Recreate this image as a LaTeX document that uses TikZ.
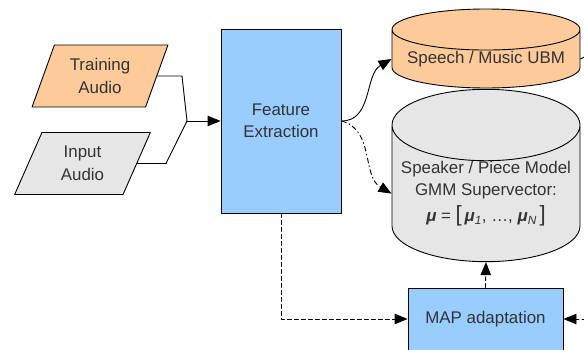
\documentclass[tikz,border=0pt]{standalone}
\usepackage{fontspec}
\setmainfont{Liberation Sans}
\usepackage{tikz}
\usetikzlibrary{arrows.meta,shapes.geometric}
\definecolor{audioorange}{HTML}{FCCB99}
\definecolor{audiogray}{HTML}{E6E6E6}
\definecolor{procblue}{HTML}{99CCFF}
\definecolor{labelgray}{HTML}{333333}

\begin{document}
\begin{tikzpicture}[line cap=round,line join=round,>={Triangle[length=13pt,width=10.5pt]},x=1pt,y=1pt,
	every node/.style={font=\fontsize{16.9}{22.5}\selectfont,text=labelgray,align=center},
	audiobox/.style={trapezium,trapezium stretches=true,trapezium left angle=67,trapezium right angle=113,draw=black,line width=0.9pt,minimum width=136pt,minimum height=62pt,inner sep=0pt},
	procbox/.style={rectangle,draw=black,line width=0.9pt,fill=procblue,inner sep=0pt},
	modeldb/.style={cylinder,shape border rotate=90,anchor=shape center,draw=black,line width=0.9pt,inner sep=0pt,minimum width=188pt},
	wire/.style={line width=0.9pt,color=black},
	dashwire/.style={wire,dash pattern=on 4pt off 3pt},
	dotwire/.style={wire,dash pattern=on 5pt off 3pt on 1pt off 3pt}]
	\useasboundingbox (0,0) rectangle (584,349);
	\clip (0,0) rectangle (584,349);
	\node[audiobox,fill=audioorange] (train) at (100,273) {Training\\Audio};
	\node[audiobox,fill=audiogray] (input) at (82.5,185.5) {Input\\Audio};
	\node[procbox,minimum width=120pt,minimum height=184pt] (feat) at (281,228) {Feature\\Extraction};
	\node[modeldb,fill=audioorange,aspect=0.26,minimum height=79pt] (ubm) at (486,300.5) {Speech / Music UBM};
	\node[modeldb,fill=audiogray,aspect=0.42,minimum height=155pt] (model) at (486,173.5)
		{Speaker / Piece Model\\GMM Supervector:\\[3pt]
		\textbf{\textit{μ}} = {\fontsize{22}{22}\selectfont[}\,\textbf{\textit{μ}}\textsubscript{\textit{1}}, …, \textbf{\textit{μ}}\textsubscript{\textit{N}}\,{\fontsize{22}{22}\selectfont]}};
	\node[procbox,minimum width=155pt,minimum height=62pt] (map) at (485.5,30) {MAP adaptation};
	\coordinate (join) at (187,228);
	\coordinate (ubmout) at (600,300.5);
	\coordinate (mapin) at (600,30);
	\draw[wire] (train.east) -- (182,273) -- (join);
	\draw[wire] (input.east) -- (166,185.5) -- (join);
	\draw[wire,->] (join) -- (feat.west);
	\draw[wire,->] (feat.east) to[out=0,in=210] (ubm.west);
	\draw[dotwire,->] (feat.east) to[out=-15,in=150] (model.west);
	\draw[dashwire,->] (feat.south) |- (map.west);
	\draw[dashwire,->] (map.north) -- (model.south);
	\draw[dashwire,->] (mapin) -- (map.east);
	\draw[wire] (ubm.east) -- (ubmout);
\end{tikzpicture}
\end{document}
